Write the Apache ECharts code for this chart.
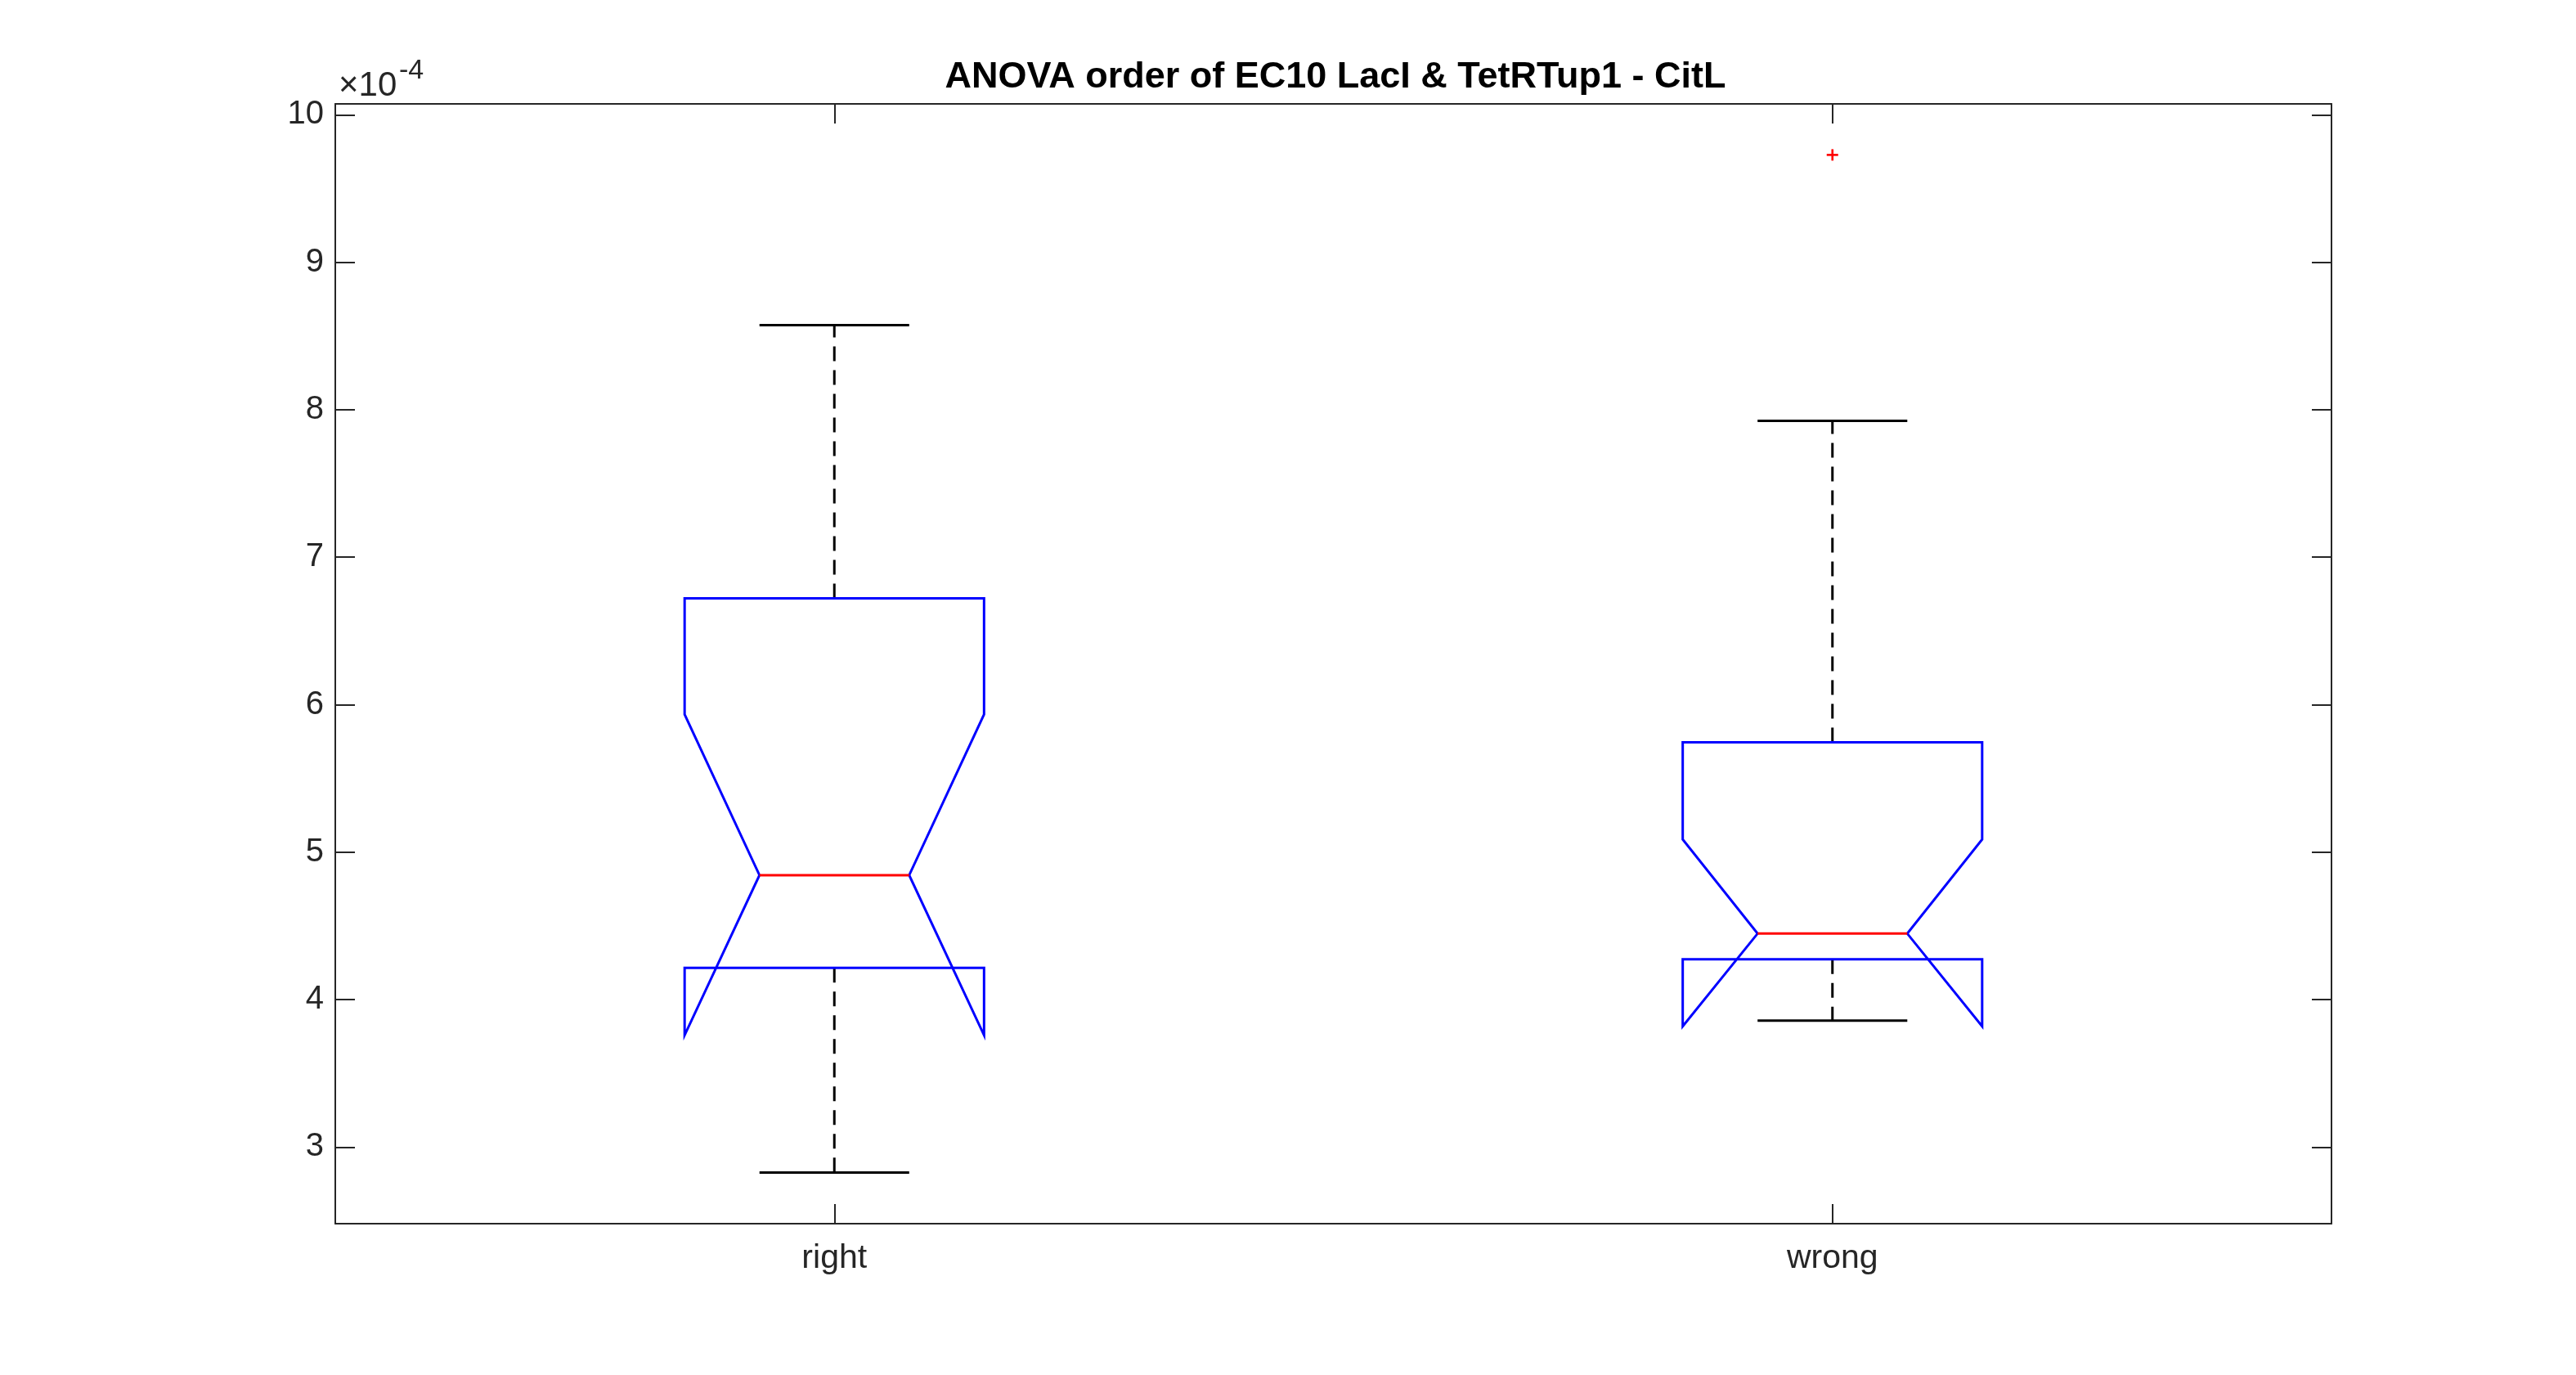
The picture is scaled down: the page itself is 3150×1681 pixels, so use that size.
<!DOCTYPE html>
<html>
<head>
<meta charset="utf-8">
<script src="https://cdn.jsdelivr.net/npm/echarts@6/dist/echarts.min.js"></script>
<style>
  html, body { margin: 0; padding: 0; background: #fff; }
  #main { width: 3150px; height: 1681px; }
</style>
</head>
<body>
<div id="main"></div>
<script>
// group names on the x axis
var categories = ['right', 'wrong'];

// box statistics (raw values, axis shows them x10^-4)
var whiskerLow  = [2.828e-4, 3.858e-4];
var notchLow    = [3.759e-4, 3.819e-4];
var q1          = [4.215e-4, 4.274e-4];
var median      = [4.844e-4, 4.448e-4];
var q3          = [6.721e-4, 5.745e-4];
var notchHigh   = [5.934e-4, 5.087e-4];
var whiskerHigh = [8.574e-4, 7.925e-4];

// outliers: [group index, value]
var outliers = [[1, 9.728e-4]];

// y tick values
var yTicks = [3e-4, 4e-4, 5e-4, 6e-4, 7e-4, 8e-4, 9e-4, 10e-4];
var yMin = 2.481e-4, yMax = 10.074e-4;

var font = "'Liberation Sans', Arial, Helvetica, sans-serif";
var axisColor = '#262626';

var boxData = categories.map(function (c, i) {
  return [i, whiskerLow[i], notchLow[i], q1[i], median[i], q3[i], notchHigh[i], whiskerHigh[i]];
});

var myChart = echarts.init(document.getElementById('main'), null, { renderer: 'canvas' });

function renderBox(params, api) {
  var idx = api.value(0);
  var bw = api.size([1, 0])[0] * 0.15;   // half box width
  var nw = bw / 2;                        // half width at the notch / caps
  var cx = api.coord([idx, 0])[0];
  function y(dim) { return api.coord([idx, api.value(dim)])[1]; }
  var wLo = y(1), nLo = y(2), b1 = y(3), med = y(4), b3 = y(5), nHi = y(6), wHi = y(7);

  var blue = { stroke: '#0000ff', lineWidth: 3, fill: null, lineJoin: 'miter' };
  var dash = { stroke: '#000', lineWidth: 3, lineDash: [18, 11] };
  var solid = { stroke: '#000', lineWidth: 3 };

  return {
    type: 'group',
    children: [
      { type: 'line', shape: { x1: cx, y1: b3, x2: cx, y2: wHi }, style: dash },
      { type: 'line', shape: { x1: cx, y1: b1, x2: cx, y2: wLo }, style: dash },
      { type: 'line', shape: { x1: cx - nw, y1: wHi, x2: cx + nw, y2: wHi }, style: solid },
      { type: 'line', shape: { x1: cx - nw, y1: wLo, x2: cx + nw, y2: wLo }, style: solid },
      {
        type: 'polygon',
        shape: {
          points: [
            [cx - bw, b3], [cx + bw, b3], [cx + bw, nHi], [cx + nw, med],
            [cx + bw, nLo], [cx + bw, b1], [cx - bw, b1], [cx - bw, nLo],
            [cx - nw, med], [cx - bw, nHi]
          ]
        },
        style: blue
      },
      { type: 'line', shape: { x1: cx - nw, y1: med, x2: cx + nw, y2: med }, style: { stroke: '#ff0000', lineWidth: 3 } }
    ]
  };
}

function renderOutlier(params, api) {
  var p = api.coord([api.value(0), api.value(1)]);
  var s = 7;
  var st = { stroke: '#ff0000', lineWidth: 2.6 };
  return {
    type: 'group',
    children: [
      { type: 'line', shape: { x1: p[0] - s, y1: p[1], x2: p[0] + s, y2: p[1] }, style: st },
      { type: 'line', shape: { x1: p[0], y1: p[1] - s, x2: p[0], y2: p[1] + s }, style: st }
    ]
  };
}

var yAxisBase = {
  type: 'value',
  min: yMin,
  max: yMax,
  splitLine: { show: false },
  axisLine: { show: true, lineStyle: { color: axisColor, width: 2 } },
  axisTick: { show: true, inside: true, length: 24, customValues: yTicks, lineStyle: { color: axisColor, width: 2 } }
};

var option = {
  backgroundColor: '#fff',
  animation: false,
  title: {
    text: 'ANOVA order of EC10 LacI & TetRTup1 - CitL',
    left: 1628,
    top: 67,
    textAlign: 'center',
    textStyle: { fontFamily: font, fontSize: 45, fontWeight: 'bold', color: '#000' }
  },
  grid: { left: 410, right: 299, top: 127, bottom: 185, containLabel: false },
  xAxis: [
    {
      type: 'category',
      data: categories,
      position: 'bottom',
      axisLine: { show: true, lineStyle: { color: axisColor, width: 2 } },
      axisTick: { show: true, inside: true, length: 24, alignWithLabel: true, lineStyle: { color: axisColor, width: 2 } },
      axisLabel: { fontFamily: font, fontSize: 41, color: axisColor, margin: 22 },
      splitLine: { show: false }
    },
    {
      type: 'category',
      data: categories,
      position: 'top',
      axisLine: { show: true, lineStyle: { color: axisColor, width: 2 } },
      axisTick: { show: true, inside: true, length: 24, alignWithLabel: true, lineStyle: { color: axisColor, width: 2 } },
      axisLabel: { show: false },
      splitLine: { show: false }
    }
  ],
  yAxis: [
    Object.assign({}, yAxisBase, {
      position: 'left',
      axisLabel: {
        fontFamily: font, fontSize: 40, color: axisColor, margin: 14,
        customValues: yTicks,
        formatter: function (v) { return String(Math.round(v * 1e4)); }
      }
    }),
    Object.assign({}, yAxisBase, {
      position: 'right',
      axisLabel: { show: false }
    })
  ],
  graphic: [
    {
      type: 'text',
      left: 414,
      top: 84,
      style: { text: '×10', fontFamily: font, fontSize: 42, fill: axisColor }
    },
    {
      type: 'text',
      left: 488,
      top: 70,
      style: { text: '-4', fontFamily: font, fontSize: 34, fill: axisColor }
    }
  ],
  series: [
    {
      type: 'custom',
      xAxisIndex: 0,
      yAxisIndex: 0,
      renderItem: renderBox,
      encode: { x: 0, y: [1, 2, 3, 4, 5, 6, 7] },
      data: boxData
    },
    {
      type: 'custom',
      xAxisIndex: 0,
      yAxisIndex: 0,
      renderItem: renderOutlier,
      encode: { x: 0, y: 1 },
      data: outliers
    }
  ]
};

myChart.setOption(option);
</script>
</body>
</html>
